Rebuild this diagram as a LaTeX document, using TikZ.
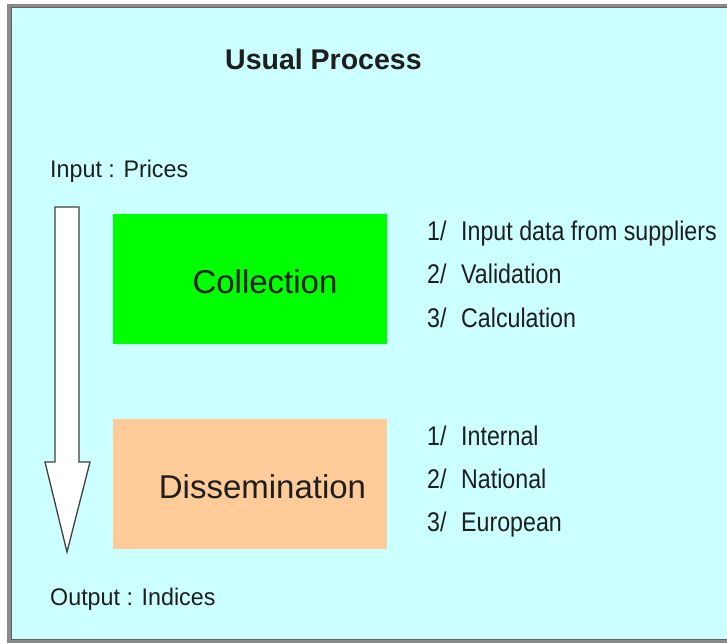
\documentclass[tikz,border=0pt]{standalone}
\usepackage{fontspec}
\setmainfont{Liberation Sans}
\newfontfamily\narrowfont{Liberation Sans}[FakeStretch=0.86]
\newfontfamily\sidefont{Liberation Sans}[FakeStretch=0.97]
\definecolor{panel}{HTML}{CCFFFF}
\definecolor{collect}{HTML}{00FF00}
\definecolor{dissem}{HTML}{FFCC99}
\definecolor{ink}{HTML}{1E1E1E}
\definecolor{framegray}{HTML}{8A8A8A}
\begin{document}
\begin{tikzpicture}[x=1pt,y=-1pt,
  stagebox/.style={minimum width=274pt,minimum height=130pt,inner sep=0pt,draw=none},
  stagelabel/.style={font=\fontsize{33}{36}\selectfont,text=ink,anchor=base,inner sep=0pt},
  itemtext/.style={font=\narrowfont\fontsize{27}{30}\selectfont,text=ink,anchor=base west,inner sep=0pt},
  sidelabel/.style={font=\sidefont\fontsize{24}{28}\selectfont,text=ink,anchor=base west,inner sep=0pt},
  flowarrow/.style={fill=white,draw=ink!85,line width=1.3pt,line join=miter}
]
\useasboundingbox (0,0) rectangle (727,644);
% panel with its grey frame (open to the right)
\fill[white] (0,0) rectangle (727,644);
\fill[panel] (9,6) rectangle (740,641);
\draw[framegray,line width=4pt] (9,6) rectangle (740,641);
\draw[ink!70,line width=1pt] (11,8) rectangle (742,639);

% title
\node[font=\bfseries\fontsize{28.5}{32}\selectfont,text=ink,anchor=base west,inner sep=0pt] (title) at (225,70) {Usual Process};

% input / output labels
\node[sidelabel] (input) at (50,178) {Input : Prices};
\node[sidelabel] (output) at (50,605) {Output : Indices};

% downward flow arrow
\draw[flowarrow] (55,207) -- (79,207) -- (79,462) -- (90,462) -- (67,552)
  -- (45,462) -- (55,462) -- cycle;

% process stages
\node[stagebox,fill=collect] (collection) at (250,279) {};
\node[stagelabel] (collectionlabel) at (265,293) {Collection};
\node[stagebox,fill=dissem] (dissemination) at (250,483.5) {};
\node[stagelabel] (disseminationlabel) at (262.5,498) {Dissemination};

% collection steps
\node[itemtext] (c1) at (427,240.5) {\makebox[34pt][l]{1/}Input data from suppliers};
\node[itemtext] (c2) at (427,283.5) {\makebox[34pt][l]{2/}Validation};
\node[itemtext] (c3) at (427,327.5) {\makebox[34pt][l]{3/}Calculation};

% dissemination steps
\node[itemtext] (d1) at (427,445.5) {\makebox[34pt][l]{1/}Internal};
\node[itemtext] (d2) at (427,488.5) {\makebox[34pt][l]{2/}National};
\node[itemtext] (d3) at (427,531.5) {\makebox[34pt][l]{3/}European};
\end{tikzpicture}
\end{document}
